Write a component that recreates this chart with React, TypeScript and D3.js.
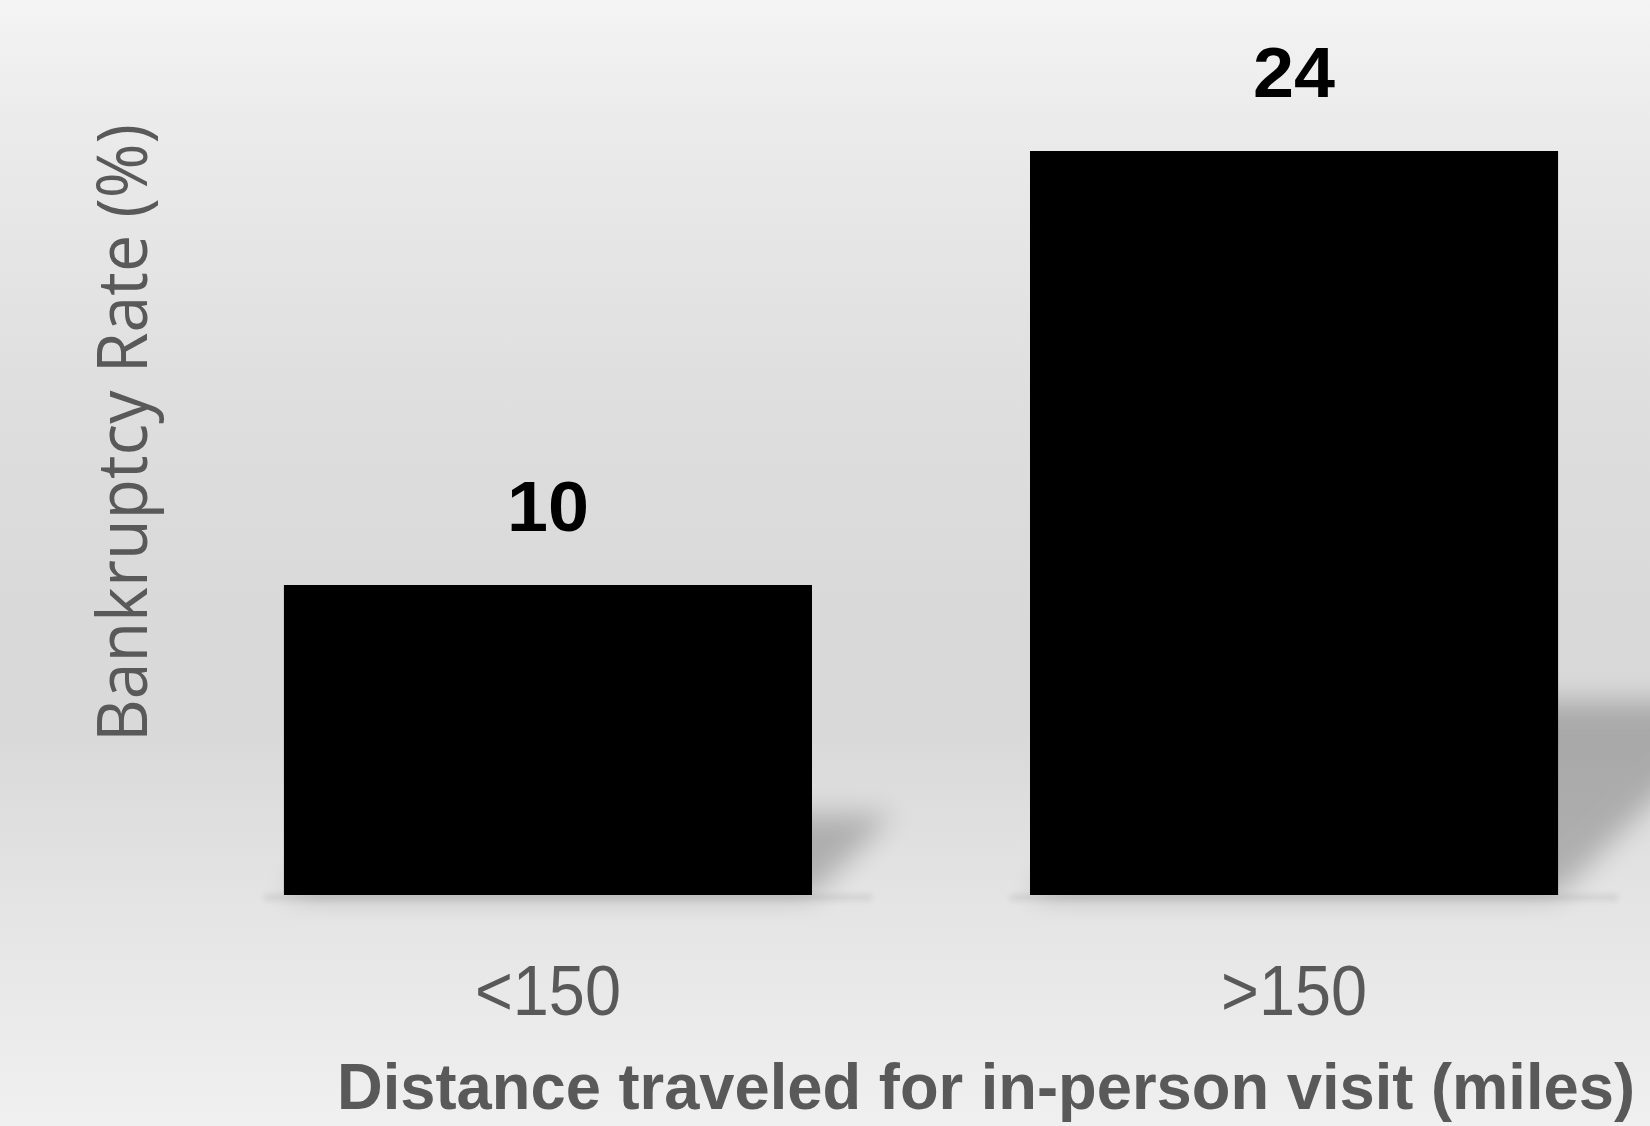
import React from "react";
import * as d3 from "d3";

const categories: string[] = ["<150", ">150"];
const values: number[] = [10, 24];
const valueLabels: string[] = ["10", "24"];
const xTitle = "Distance traveled for in-person visit (miles)";
const yTitle = "Bankruptcy Rate (%)";

const W = 1650;
const H = 1126;

export default function App() {
  const base = 895;
  const y = d3.scaleLinear().domain([0, 24]).range([base, 151]);
  const x = d3
    .scaleBand<string>()
    .domain(categories)
    .range([175, 1667])
    .paddingInner(0.2922)
    .paddingOuter(0.146);
  const bw = x.bandwidth();
  const gray = "#595959";

  return (
    <svg
      width={W}
      height={H}
      style={{ position: "absolute", left: 0, top: 0, display: "block" }}
    >
      <defs>
        <linearGradient id="bg" x1="0" y1="0" x2="0" y2="1">
          <stop offset="0" stopColor="#f4f4f4" />
          <stop offset="0.11" stopColor="#ebebeb" />
          <stop offset="0.36" stopColor="#dedede" />
          <stop offset="0.55" stopColor="#d9d9d9" />
          <stop offset="0.65" stopColor="#d9d9d9" />
          <stop offset="0.8" stopColor="#e4e4e4" />
          <stop offset="1" stopColor="#f0f0f0" />
        </linearGradient>
        <filter id="blur" x="-50%" y="-50%" width="200%" height="200%">
          <feGaussianBlur stdDeviation="14" />
        </filter>
        <filter id="blur2" x="-20%" y="-200%" width="140%" height="500%">
          <feGaussianBlur stdDeviation="3" />
        </filter>
      </defs>
      <rect x={0} y={0} width={W} height={H} fill="url(#bg)" />

      {/* perspective shadows */}
      {categories.map((c, i) => {
        const x0 = x(c)!;
        const x1 = x0 + bw;
        const h = base - y(values[i]);
        const dh = h * 0.26;
        const pts = [
          [x0, base],
          [x1, base],
          [x1 + dh, base - dh],
          [x0 + dh, base - dh],
        ]
          .map((p) => p.join(","))
          .join(" ");
        return (
          <g key={"sh" + c}>
            <polygon points={pts} fill="#000" opacity={0.22} filter="url(#blur)" />
            <rect
              x={x0 - 20}
              y={base}
              width={bw + 80}
              height={5}
              fill="#000"
              opacity={0.1}
              filter="url(#blur2)"
            />
          </g>
        );
      })}

      {/* bars */}
      {categories.map((c, i) => (
        <rect
          key={"bar" + c}
          x={x(c)}
          y={y(values[i])}
          width={bw}
          height={base - y(values[i])}
          fill="#000"
        />
      ))}

      {/* value labels */}
      {categories.map((c, i) => (
        <text
          key={"vl" + c}
          x={x(c)! + bw / 2}
          y={y(values[i]) - 54}
          textAnchor="middle"
          fontFamily="'Liberation Sans', Arial, sans-serif"
          fontWeight="bold"
          fontSize={70}
          fill="#000"
          textLength={82}
          lengthAdjust="spacingAndGlyphs"
        >
          {valueLabels[i]}
        </text>
      ))}

      {/* category labels */}
      {categories.map((c) => (
        <text
          key={"cl" + c}
          x={x(c)! + bw / 2}
          y={1015}
          textAnchor="middle"
          fontFamily="'Liberation Sans Narrow', 'Liberation Sans', Arial, sans-serif"
          fontSize={70}
          fill={gray}
          textLength={146}
          lengthAdjust="spacingAndGlyphs"
        >
          {c}
        </text>
      ))}

      {/* x title */}
      <text
        x={337}
        y={1109}
        textAnchor="start"
        fontFamily="'Liberation Sans Narrow', 'Liberation Sans', Arial, sans-serif"
        fontWeight="bold"
        fontSize={65}
        fill={gray}
        textLength={1298}
        lengthAdjust="spacingAndGlyphs"
      >
        {xTitle}
      </text>

      {/* y title */}
      <text
        transform={`translate(147,433) rotate(-90)`}
        textAnchor="middle"
        fontFamily="'Open Sans', 'DejaVu Sans', sans-serif"
        fontSize={70}
        fill={gray}
        textLength={618}
        lengthAdjust="spacingAndGlyphs"
      >
        {yTitle}
      </text>
    </svg>
  );
}
